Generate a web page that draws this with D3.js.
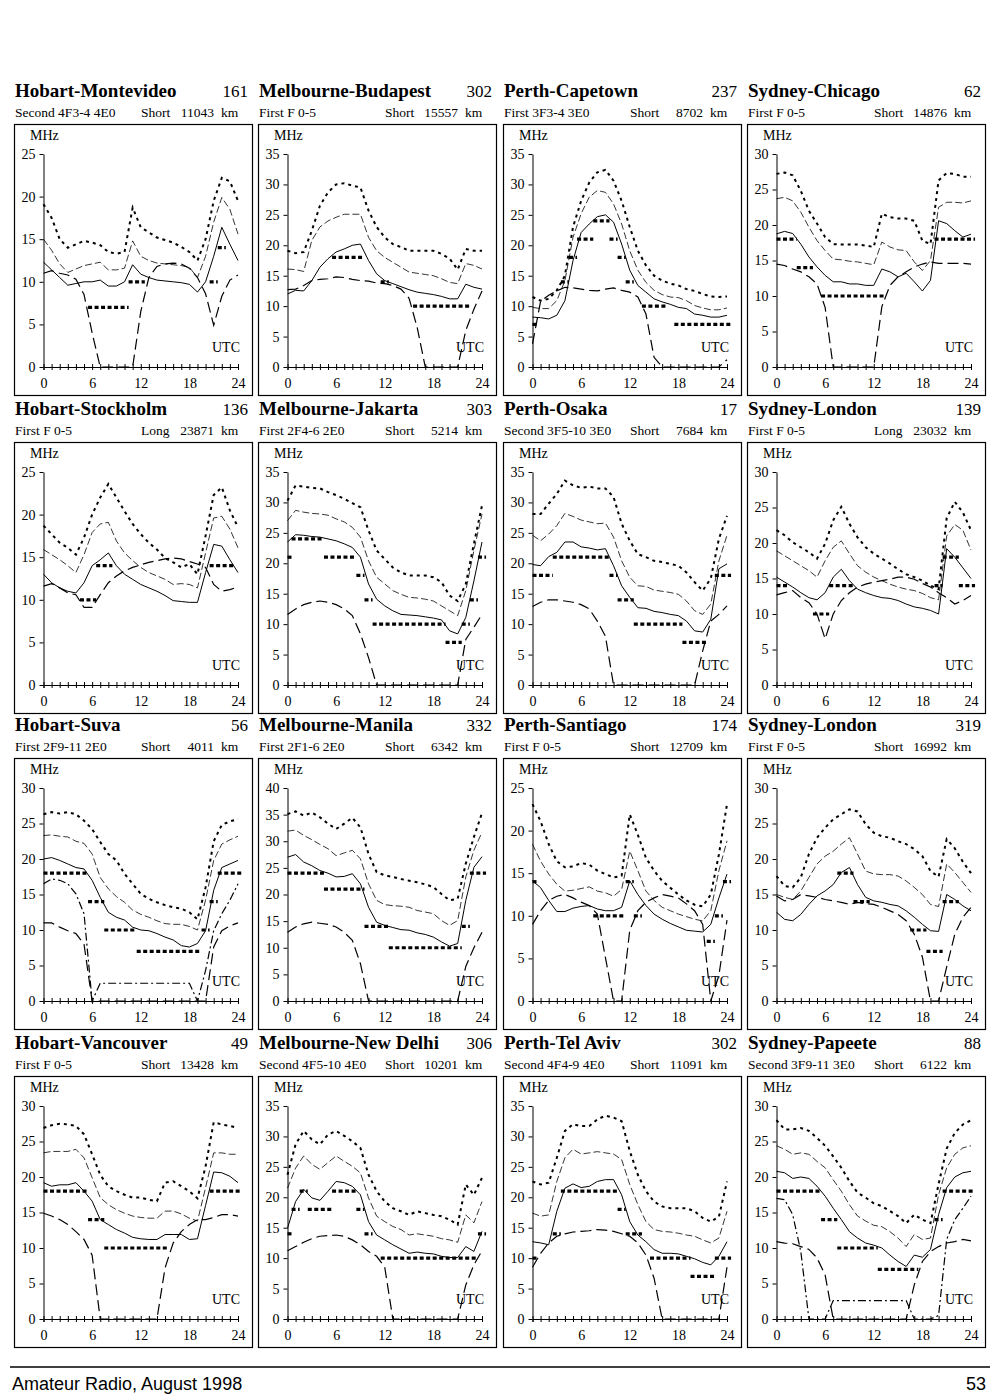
<!DOCTYPE html>
<html><head><meta charset="utf-8">
<script src="https://cdn.jsdelivr.net/npm/d3@7"></script>
<style>body{margin:0;background:#fff}</style>
</head><body>
<svg id="c" width="1000" height="1400"></svg>
<script>
// ---------- tick labels ----------
const hours = [0,1,2,3,4,5,6,7,8,9,10,11,12,13,14,15,16,17,18,19,20,21,22,23,24];
const xTickLabels = [0,6,12,18,24];

// ---------- panel texts ----------
const routes = ["Hobart-Montevideo","Melbourne-Budapest","Perth-Capetown","Sydney-Chicago",
  "Hobart-Stockholm","Melbourne-Jakarta","Perth-Osaka","Sydney-London",
  "Hobart-Suva","Melbourne-Manila","Perth-Santiago","Sydney-London",
  "Hobart-Vancouver","Melbourne-New Delhi","Perth-Tel Aviv","Sydney-Papeete"];
const routeNumbers = ["161","302","237","62","136","303","17","139","56","332","174","319","49","306","302","88"];
const modes = ["Second 4F3-4 4E0","First F 0-5","First 3F3-4 3E0","First F 0-5",
  "First F 0-5","First 2F4-6 2E0","Second 3F5-10 3E0","First F 0-5",
  "First 2F9-11 2E0","First 2F1-6 2E0","First F 0-5","First F 0-5",
  "First F 0-5","Second 4F5-10 4E0","Second 4F4-9 4E0","Second 3F9-11 3E0"];
const paths = ["Short","Short","Short","Short","Long","Short","Short","Long",
  "Short","Short","Short","Short","Short","Short","Short","Short"];
const distances = ["11043","15557","8702","14876","23871","5214","7684","23032",
  "4011","6342","12709","16992","13428","10201","11091","6122"];
const yMaxes = [25,35,35,30, 25,35,35,30, 30,40,25,30, 30,35,35,30];

// ---------- series (MHz per hour 0..24) ----------
// 1 Hobart-Montevideo
const s01Upper = [19.1,17.5,15,14,14.4,14.8,14.6,14.3,13.5,13.3,13.5,18.7,16.4,15.8,15.2,14.9,14.6,14.1,13.5,12.5,15,19.5,22.2,21.8,19.5];
const s01Mid   = [15,13.7,12.1,11.1,11.5,11.9,12.1,12.3,11.4,11.4,11.6,14.8,13,12.5,12.2,12.1,12,11.9,11.7,10.5,13,17,19.9,18.5,15.6];
const s01Solid = [12.3,11.4,10.5,9.6,9.8,10,10,10.2,9.5,9.5,10,12,10.9,10.5,10.2,10.1,10,9.9,9.7,8.8,10,13,16.4,14.4,12.5];
const s01Lower = [11,11.3,11,10.8,10.3,8.5,4,0,0,0,0,0,6.5,10.5,11.8,12.1,12.2,12.1,11.6,10.5,8.6,4.9,8.3,10.2,10.8];
const s01Best  = [null,null,null,null,null,null,7,7,7,7,7,10,10,null,null,null,null,null,null,null,null,10,14,null,null];
// 2 Melbourne-Budapest
const s02Upper = [19.1,18.7,18.9,22.4,26.5,28.7,30,30.2,29.8,29.5,25.7,23,21.3,20.2,19.7,19.1,19.1,19.1,19.1,18.6,17.8,16,19.4,19.1,19.1];
const s02Mid   = [16.1,16,15.7,20.8,23,24,24.6,25.1,25.1,25.1,21.3,19.1,18,17.2,16.4,15.6,15.4,15.2,15,14.5,13.9,13.7,17,16.7,16.1];
const s02Solid = [12,12.6,12.5,14.2,16.4,17.8,18.9,19.4,20,20.2,17.5,15.3,14.2,13.7,13.2,12.7,12.3,12.1,11.9,11.6,11.2,11.2,13.6,13.1,12.8];
const s02Lower = [12.7,12.8,13.4,14.2,14.4,14.5,14.8,14.7,14.4,14.2,14.1,13.8,13.7,13.4,12.8,11.3,6.5,0,0,0,0,0,6,9.5,12.5];
const s02Best  = [null,null,null,null,null,null,18,18,18,18,null,null,14,null,null,null,10,10,10,10,10,10,10,null,null];
// 3 Perth-Capetown
const s03Upper = [11.5,10.9,11.2,12.6,15,23,27.3,30.3,32,32.4,30.6,27.3,23,19.1,16.7,15,14.2,13.7,13.4,12.8,12.5,12,11.6,11.5,11.6];
const s03Mid   = [9.8,9.6,9.6,10.9,14.2,21.3,25.2,27.9,29,28.7,26.8,23.5,19.1,15.9,13.9,12.6,11.9,11.5,11.4,10.9,10.1,9.7,9.4,9.4,9.7];
const s03Solid = [8.2,8.1,7.9,8.5,10.9,17.5,22.1,23.5,24.7,25,23.8,20.2,15.9,13.4,12.3,11.2,10.7,10.3,9.8,9.6,8.7,8.5,8.2,8.2,8.5];
const s03Lower = [3.8,10.8,11.8,12.5,13.1,13,12.8,12.6,12.5,12.8,13,12.6,12.3,11.5,8.7,1.6,0,0,0,0,0,0,0,0,1.2];
const s03Best  = [7,null,null,null,14,18,21,21,24,24,21,18,14,null,10,10,10,null,7,7,7,7,7,7,7];
// 4 Sydney-Chicago
const s04Upper = [27.2,27.4,27,24.8,22,20.2,18.3,17.3,17.25,17.25,17.25,17.1,16.9,21.6,21.1,20.9,20.9,20.6,17.8,17.3,26.3,27.3,27.2,26.8,26.8];
const s04Mid   = [23.7,23.9,23.4,21.8,19.7,17.8,16.4,15.2,15.1,14.9,14.8,14.6,14.4,17.6,16.9,16.5,16.4,14.8,13.6,15,22.5,23.2,23.2,23.1,23.4];
const s04Solid = [18.75,19.1,18.8,17.3,15.5,14.1,12.9,12,12,11.7,11.7,11.5,11.5,13.8,13.4,12.7,13.2,12,10.7,12.2,20.6,20.2,19.2,18.3,18.7];
const s04Lower = [14.5,14.3,13.8,13.4,12.7,11.7,8.4,0,0,0,0,0,0,8.5,11.5,12.7,13.4,14.1,14.5,14.8,14.6,14.6,14.6,14.6,14.5];
const s04Best  = [18,18,18,14,14,null,10,10,10,10,10,10,10,10,null,null,null,null,null,null,18,18,18,18,18];
// 5 Hobart-Stockholm
const s05Upper = [18.7,17.7,16.7,16.1,15.3,17.3,20,22,23.6,22,20.4,18.9,17.7,16.7,15.9,14.9,14.4,13.8,14.2,13,17.5,22.3,23.2,20.5,18.5];
const s05Mid   = [15.9,15.3,14.7,14,13.2,15.3,17.9,18.9,19.1,16.9,15.5,14.6,13.8,13.2,12.8,12.4,11.8,11.9,11.8,11.4,15.5,19.6,19.8,18.3,16.1];
const s05Solid = [13,12,11.4,11,10.8,12,14,14.7,15.5,14,13,12.4,11.8,11.4,11,10.5,9.9,9.8,9.7,9.7,13.2,16.5,16.3,14.7,13.2];
const s05Lower = [11.6,11.9,11.4,10.8,10.6,9.1,9.1,10.6,12,12.8,13.4,13.8,14.1,14.4,14.6,14.8,14.9,14.8,14.5,14.2,13.8,11.8,11,11.2,11.5];
const s05Best  = [null,null,null,null,null,10,10,14,14,null,null,null,null,null,null,null,null,null,null,null,null,14,14,14,null];
// 6 Melbourne-Jakarta
const s06Upper = [30.3,32.8,32.6,32.4,32.3,31.7,31.2,30.6,29.9,29.2,25.4,22.1,20.7,19.3,18.5,18,18,18,17.7,16.9,14.7,13.8,16.6,23.2,29.5];
const s06Mid   = [27,28.7,28.4,28.2,28.1,27.9,27.3,26.8,25.9,24.3,20.4,17.7,16.6,15.5,14.9,14.4,14.3,14.1,13.8,13,12.2,11.4,15.5,22.1,28.1];
const s06Solid = [23.5,24.7,24.6,24.4,24.3,24,23.7,23.2,22.6,21,16.6,14.1,13,12.2,11.6,11.5,11.4,11.2,11,10.7,8.9,8.4,11.1,17.1,23.5];
const s06Lower = [11.6,12.5,13.2,13.6,13.8,13.6,13.2,12.5,11.4,8.4,4.5,0,0,0,0,0,0,0,0,0,0,0,7.5,9.5,11.6];
const s06Best  = [21,24,24,24,24,21,21,21,21,18,14,10,10,10,10,10,10,10,10,10,7,7,10,14,21];
// 7 Perth-Osaka
const s07Upper = [28.1,28.1,29.8,31.4,33.6,32.8,32.4,32.6,32.3,32.3,30.9,26.5,23.7,21.5,21,20.4,20.2,19.9,19.6,18.5,16.9,15.5,17.5,24,27.8];
const s07Mid   = [24.6,23.7,24.8,26.2,28.2,27.7,27.1,26.8,26.5,26.6,24.3,20.4,17.7,16.3,16.2,15.6,15.4,15.2,14.9,13.8,12.2,11.6,13.3,20.4,24.6];
const s07Solid = [19.8,19.6,21.1,21.8,23.5,23.5,22.7,22.5,22.2,22.4,19.6,16.3,14.4,12.7,12.6,12.1,11.9,11.6,11.4,10.5,8.9,8.7,10.8,19.1,19.9];
const s07Lower = [12.9,13.6,14,14,13.8,13.6,13.2,12.5,10.5,8,0,0,0,0,0,0,0,0,0,0,0,5.6,10.5,11.6,13];
const s07Best  = [18,18,18,21,21,21,21,21,21,21,18,14,14,10,10,10,10,10,10,7,7,7,null,18,18];
// 8 Sydney-London (long)
const s08Upper = [21.8,21.1,20.1,19.4,18.7,17.8,19.9,23.2,25.1,22.7,20.8,19.4,18.5,17.8,17.1,16.3,15.6,15.2,14.7,14,13.5,23.5,25.8,24.3,21.8];
const s08Mid   = [18.9,18.2,17.5,16.8,16.1,15.2,17.5,19.4,20.3,18.5,16.8,15.9,15.2,14.7,14.2,13.8,13.5,13.3,12.9,12.3,12,21,22.6,21.8,19];
const s08Solid = [15.2,14.5,13.8,13,12.3,12,13,15.2,16.3,14.7,13.5,13,12.6,12.3,12.2,11.9,11.4,11,10.8,10.5,10,19.2,18,16.5,15];
const s08Lower = [12.7,13,13.3,12.3,11.6,10,6.5,10,11.9,13,13.8,14.2,14.5,14.7,14.9,15.2,15.2,14.9,14.3,13.8,13,12.3,11.4,11.9,12.6];
const s08Best  = [14,14,null,null,null,10,10,14,14,14,null,null,null,null,null,null,null,null,null,null,14,18,18,14,14];
// 9 Hobart-Suva
const s09Upper = [26.3,26.6,26.4,26.6,26.3,25.4,24.2,22.4,20.7,19.8,17.9,16.5,15.1,14.4,13.9,13.5,13.2,13,12.5,11.5,16,22.5,24.8,25.3,25.6];
const s09Mid   = [23.3,23.4,23.2,23.1,22.5,22.2,20.7,17.4,15.8,14.7,13.9,12.8,12.2,11.8,11.3,10.9,10.8,10.8,10.5,10,14.2,19.8,22.1,22.7,23.2];
const s09Solid = [20,20.2,19.8,19.3,18.8,18.6,17,14.6,12.5,11.8,11.4,10.4,10,9.9,9.5,9,8.6,7.8,7.6,8.1,9.9,15.6,18.8,19.3,19.8];
const s09Lower = [11,11,10.4,9.9,9.5,8,0,0,0,0,0,0,0,0,0,0,0,0,0,0,0,7.6,9.9,10.6,11];
const s09DashDot = [16.5,17.2,17,16.5,15.1,12.3,0,2.5,2.5,2.5,2.5,2.5,2.5,2.5,2.5,2.5,2.5,2.5,2.5,0,4.3,9.9,12.3,14.2,16.5];
const s09Best  = [18,18,18,18,18,18,14,14,10,10,10,10,7,7,7,7,7,7,7,7,10,14,18,18,18];
// 10 Melbourne-Manila
const s10Upper = [35.1,35.6,34.8,35.4,34.5,33.3,32.3,33.3,34.4,32.6,27.6,24.2,23.6,23.3,22.9,22.6,22.3,21.9,21.4,20.1,18.9,19.2,25.8,30.8,35.3];
const s10Mid   = [31.9,32.1,31.1,30.3,29.4,28.6,27.3,27.8,28.3,26.7,22,18.9,18.1,17.9,17.8,17.6,17,16.7,16.4,15.1,14.2,15.1,23.3,28.3,31.7];
const s10Solid = [27,27.5,26.1,25.4,24.5,24,23.3,23.4,23.9,22,17.6,14.8,14.2,13.8,13.4,13.3,12.8,12.5,12,11.1,10.3,10.8,18.9,25.1,27.1];
const s10Lower = [12.9,13.9,14.5,14.8,14.6,14.4,13.9,12.9,11.4,7,0,0,0,0,0,0,0,0,0,0,0,0,6.5,10,12.9];
const s10Best  = [24,24,24,24,24,21,21,21,21,21,14,14,14,10,10,10,10,10,10,10,10,10,14,24,24];
// 11 Perth-Santiago
const s11Upper = [23.1,21.1,18.4,16.4,15.7,15.8,16.2,16,15.3,14.9,14.5,14.7,21.9,19.5,16.8,15.3,14.1,13.3,12.5,11.8,11.3,11.1,12.5,17.2,23.1];
const s11Mid   = [18.4,16.4,14.9,13.7,12.9,13,13.2,13.4,12.9,12.7,12.3,13.1,17.6,15.3,12.9,11.8,11,10.6,10.2,9.9,9.6,9.4,10.6,15.3,18.8];
const s11Solid = [14.1,13.3,11.8,10.5,10.5,10.9,11.1,11.2,10.8,10.6,10.6,11,14.1,12.5,11.2,10.2,9.6,9.1,8.7,8.3,8.2,8.1,9,12.1,14.9];
const s11Lower = [9,10.6,11.8,12.3,12.5,12.1,11.6,11.2,10.2,5.1,0,0,8.3,10.6,11.6,12.1,12.5,12.3,12.1,11.4,10.6,9,0,3,9.5];
const s11Best  = [14,null,null,null,null,null,null,null,10,10,10,10,14,10,null,null,null,null,null,null,null,null,7,10,14];
// 12 Sydney-London (short)
const s12Upper = [17.6,16.2,16,17.4,20.7,23,24.4,25.6,26.3,27,26.7,24.9,23.7,23.2,23,22.5,22.1,21.4,20.4,18.3,17.5,22.8,21.5,19.6,18];
const s12Mid   = [15,14.6,14.3,15.5,17.4,19.3,20.4,21.1,22.1,23,20.7,18.3,17.9,17.8,17.8,17.6,16.9,16,15,13.6,13.3,19.3,18.1,16.7,15.3];
const s12Solid = [12.5,11.5,11.3,12.2,13.6,14.8,15.5,16.4,18.1,18.8,16.4,14.6,14.1,13.9,13.6,13.4,12.7,11.8,10.8,9.9,9.8,15,14.3,13.4,12.7];
const s12Lower = [14.8,14.1,14.3,15,14.8,14.6,14.3,14.1,13.9,13.6,13.9,13.7,13.6,13.2,12.7,12.2,11.3,9.4,6.2,0,0,4.8,9.4,11.8,13.2];
const s12Best  = [null,null,null,null,null,null,null,null,18,18,14,14,null,null,null,null,null,10,10,7,7,14,14,null,null];
// 13 Hobart-Vancouver
const s13Upper = [26.9,27.3,27.5,27.4,27.2,26,23.2,20.3,18.7,18,17.5,17.1,17.1,16.8,16.6,19.2,19.4,18.7,18,17,21.5,27.7,27.4,27.2,26.9];
const s13Mid   = [23.4,23.6,23.6,23.6,23.9,22.7,19.9,17.1,16.1,15.4,14.9,14.5,14.3,14.2,14.2,15.2,15.2,14.8,14.2,13.8,18.5,23.4,23.4,23.2,23.2];
const s13Solid = [19.2,18.7,18.9,18.9,19.2,18,16.6,14,13.3,12.6,12.1,11.5,11.3,11.2,11.2,11.9,11.9,11.9,11.2,11.3,16,20.7,20.6,20.1,19.2];
const s13Lower = [14.9,14.5,14,13.3,12.3,11.2,9,0,0,0,0,0,0,0,0,7.2,10.7,12.3,13.3,14,14,14.3,14.7,14.7,14.5];
const s13Best  = [18,18,18,18,18,18,14,14,10,10,10,10,10,10,10,10,null,null,null,null,null,18,18,18,18];
// 14 Melbourne-New Delhi
const s14Upper = [23.7,28.7,30.9,29.5,28.7,30.3,30.9,30.1,29.2,28.1,23.7,21,19.3,18.2,17.7,17.1,17.7,17.4,17.1,16.9,16.3,15.5,22.1,20.4,23.2];
const s14Mid   = [21.5,24.8,26.8,25.4,24.6,25.7,26.8,25.9,25.1,24,19.9,16.9,16,15.2,14.7,13.8,14,13.8,13.6,13.2,13,12.6,17.1,15.8,19.3];
const s14Solid = [14.9,19.3,21.3,19.9,19.5,21,22.6,22.4,21.8,20.4,16,13.8,13,12.2,11.5,10.8,11,10.8,10.7,10.3,10.1,10.1,11.9,11.1,14.4];
const s14Lower = [11.2,11.9,12.6,13.2,13.6,13.7,13.8,13.6,13,12.2,11.1,10.3,8.5,0,0,0,0,0,0,0,0,0,5.6,8.9,11.2];
const s14Best  = [14,18,21,18,18,18,21,21,21,18,14,null,10,10,10,10,10,10,10,10,10,10,10,10,14];
// 15 Perth-Tel Aviv
const s15Upper = [22.6,22.1,22.4,26.5,30.9,32,31.7,31.7,32.8,33.4,33.1,32.5,27.6,23.7,21,19.3,18.5,18.2,18.2,18.2,17.7,16.6,16,16.8,22.6];
const s15Mid   = [17.4,16.9,17.1,22.6,26.5,27.9,27.1,27.3,27.5,27.3,27.1,26.2,22.1,18.8,16,14.7,14.4,14.3,14.1,13.8,13.6,13,12.5,13.3,17.7];
const s15Solid = [12.7,12.5,12.2,17.7,21.5,22.2,21.6,21.8,22.6,22.9,22.9,20.4,16,13.8,12.7,11.4,10.8,10.8,10.7,10.3,9.9,9.3,8.9,10.3,12.7];
const s15Lower = [8.5,10.8,12.5,13.6,14,14.3,14.4,14.5,14.7,14.6,14.4,14,13.6,12.5,10.5,6.7,0,0,0,0,0,0,0,0,8.5];
const s15Best  = [10,null,null,14,21,21,21,21,21,21,21,18,14,14,null,10,10,10,10,10,7,7,7,10,10];
// 16 Sydney-Papeete
const s16Upper = [28,26.7,26.7,26.9,26.5,25.5,24.4,22.9,21.3,19.4,17.8,17.1,16.3,15.9,15.2,14.5,13.5,14.7,14,13.5,19,24,26.2,27.4,28];
const s16Mid   = [24.4,23.9,23.2,23.4,23.2,22.2,21.3,19.6,18,16.1,14.5,13.8,13.2,13,12.3,11.4,10.2,11.9,11.2,11.4,17.5,21.3,23.2,24.1,24.4];
const s16Solid = [20.8,20.6,19.8,20,19.8,18.7,17.3,15.6,14,12.3,11.4,10.7,10.4,10,9,8.1,7.4,9,8.7,9.8,14.7,18.5,20,20.6,20.8];
const s16Lower = [10.9,10.7,10.6,10.2,9.8,8.6,6.2,0,0,0,0,0,0,0,0,0,0,4.8,8.1,9.5,10.2,10.7,10.9,11.2,11];
const s16DashDot = [17,16.8,14.7,9.5,0,0,0,2.6,2.6,2.6,2.6,2.6,2.6,2.6,2.6,2.6,2.6,0,0,0,0.5,11.2,14,15.6,17.3];
const s16Best  = [18,18,18,18,18,18,14,14,10,10,10,10,10,7,7,7,7,7,null,null,14,18,18,18,18];

// ---------- assemble ----------
const panelSeries = [
  [s01Upper,s01Mid,s01Solid,s01Lower,null,s01Best],
  [s02Upper,s02Mid,s02Solid,s02Lower,null,s02Best],
  [s03Upper,s03Mid,s03Solid,s03Lower,null,s03Best],
  [s04Upper,s04Mid,s04Solid,s04Lower,null,s04Best],
  [s05Upper,s05Mid,s05Solid,s05Lower,null,s05Best],
  [s06Upper,s06Mid,s06Solid,s06Lower,null,s06Best],
  [s07Upper,s07Mid,s07Solid,s07Lower,null,s07Best],
  [s08Upper,s08Mid,s08Solid,s08Lower,null,s08Best],
  [s09Upper,s09Mid,s09Solid,s09Lower,s09DashDot,s09Best],
  [s10Upper,s10Mid,s10Solid,s10Lower,null,s10Best],
  [s11Upper,s11Mid,s11Solid,s11Lower,null,s11Best],
  [s12Upper,s12Mid,s12Solid,s12Lower,null,s12Best],
  [s13Upper,s13Mid,s13Solid,s13Lower,null,s13Best],
  [s14Upper,s14Mid,s14Solid,s14Lower,null,s14Best],
  [s15Upper,s15Mid,s15Solid,s15Lower,null,s15Best],
  [s16Upper,s16Mid,s16Solid,s16Lower,s16DashDot,s16Best]
];

const svg = d3.select("#c");
const serif = "'Liberation Serif','Times New Roman',serif";
const colX = [14,258,503,747];
const rowY = [124,442,758,1076];
const boxW = 238, boxH = 271;

const lineStyles = [
  {w:2,   dash:"3,4"},      // upper (dotted)
  {w:0.8, dash:"7,3"},      // thin dashed
  {w:1,   dash:null},       // solid
  {w:1.2, dash:"11,5"},     // long dashed
  {w:1.2, dash:"8,3,2,3"}   // dash-dot
];

function runs(arr){
  const out=[]; let cur=null;
  arr.forEach((v,h)=>{
    if(v==null){ if(cur){out.push(cur);cur=null;} return; }
    if(cur && cur.v===v){ cur.e=h; }
    else { if(cur) out.push(cur); cur={v:v,s:h,e:h}; }
  });
  if(cur) out.push(cur);
  return out;
}

routes.forEach((name,i)=>{
  const r=Math.floor(i/4), c=i%4;
  const bx=colX[c], by=rowY[r];
  const g=svg.append("g");
  const x=d3.scaleLinear().domain([0,24]).range([bx+29.5,bx+224]);
  const y=d3.scaleLinear().domain([0,yMaxes[i]]).range([by+243,by+30]);

  // titles
  g.append("text").attr("x",bx+1).attr("y",by-27).attr("font-family",serif)
    .attr("font-weight","bold").attr("font-size",19).text(name);
  g.append("text").attr("x",bx+234).attr("y",by-27).attr("font-family",serif)
    .attr("font-size",17).attr("text-anchor","end").text(routeNumbers[i]);
  g.append("text").attr("x",bx+1).attr("y",by-7).attr("font-family",serif)
    .attr("font-size",13.5).text(modes[i]);
  g.append("text").attr("x",bx+127).attr("y",by-7).attr("font-family",serif)
    .attr("font-size",13.5).text(paths[i]);
  g.append("text").attr("x",bx+200).attr("y",by-7).attr("font-family",serif)
    .attr("font-size",13.5).attr("text-anchor","end").text(distances[i]);
  g.append("text").attr("x",bx+207).attr("y",by-7).attr("font-family",serif)
    .attr("font-size",13.5).text("km");

  // box
  g.append("rect").attr("x",bx+0.5).attr("y",by+0.5).attr("width",boxW).attr("height",boxH)
    .attr("fill","none").attr("stroke","#000").attr("stroke-width",1.2);

  // labels
  g.append("text").attr("x",bx+16).attr("y",by+16).attr("font-family",serif)
    .attr("font-size",14).text("MHz");
  g.append("text").attr("x",bx+226).attr("y",by+228).attr("font-family",serif)
    .attr("font-size",14).attr("text-anchor","end").text("UTC");

  // y axis
  const ya=g.append("g").attr("transform",`translate(${bx+29.5},0)`)
    .call(d3.axisLeft(y).tickValues(d3.range(0,yMaxes[i]+0.1,5)).tickSize(4).tickSizeOuter(0).tickPadding(4));
  ya.selectAll("text").attr("font-family",serif).attr("font-size",14).attr("fill","#000");
  ya.selectAll("line,path").attr("stroke","#000");
  ya.attr("font-family",null).attr("font-size",null);

  // x axis
  const xa=g.append("g").attr("transform",`translate(0,${by+243})`)
    .call(d3.axisBottom(x).tickValues(hours).tickSizeOuter(0).tickSize(3)
      .tickFormat(d=>xTickLabels.includes(d)?d:""));
  xa.selectAll(".tick line").attr("y1",-3).attr("y2",3).attr("stroke","#000");
  xa.selectAll("path").attr("stroke","#000");
  xa.selectAll("text").attr("font-family",serif).attr("font-size",14).attr("fill","#000")
    .attr("y",21).attr("dy",0);

  // series
  const ser=panelSeries[i];
  const line=d3.line().x((d,h)=>x(hours[h])).y(d=>y(d));
  [4,3,1,0,2].forEach(k=>{
    const data=ser[k]; if(!data) return;
    const st=lineStyles[k];
    g.append("path").attr("d",line(data)).attr("fill","none").attr("stroke","#000")
      .attr("stroke-width",st.w).attr("stroke-dasharray",st.dash);
  });
  // best frequency segments
  runs(ser[5]).forEach(rn=>{
    g.append("line").attr("x1",x(Math.max(0,rn.s-0.5))).attr("x2",x(rn.e+0.5))
      .attr("y1",y(rn.v)).attr("y2",y(rn.v)).attr("stroke","#000")
      .attr("stroke-width",3.2).attr("stroke-dasharray","4,2.5");
  });
});

// footer
svg.append("line").attr("x1",10).attr("x2",990).attr("y1",1367).attr("y2",1367)
  .attr("stroke","#000").attr("stroke-width",1.5);
svg.append("text").attr("x",12).attr("y",1390).attr("font-family","'Liberation Sans',Arial,sans-serif")
  .attr("font-size",18).text("Amateur Radio, August 1998");
svg.append("text").attr("x",986).attr("y",1390).attr("text-anchor","end")
  .attr("font-family","'Liberation Sans',Arial,sans-serif").attr("font-size",18).text("53");
</script>
</body></html>
